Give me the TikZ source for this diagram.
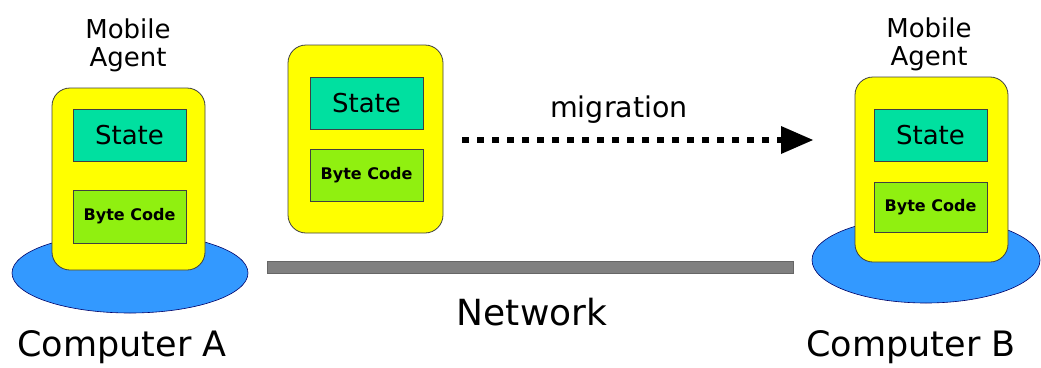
\documentclass[tikz,border=0pt]{standalone}
\usepackage{fontspec}
\setmainfont{DejaVu Sans}
\usetikzlibrary{arrows.meta}
\definecolor{agentyellow}{RGB}{255,255,0}
\definecolor{stategreen}{RGB}{0,224,160}
\definecolor{codegreen}{RGB}{144,240,16}
\definecolor{hostblue}{RGB}{51,153,255}
\definecolor{bargray}{RGB}{128,128,128}
\begin{document}
\begin{tikzpicture}[x=1pt,y=-1pt,
  agentbox/.style={draw=black!75,line width=0.8pt,fill=agentyellow,rounded corners=18pt,inner sep=0pt},
  statebox/.style={draw=black!75,line width=0.8pt,fill=stategreen,inner sep=0pt,minimum width=113pt,minimum height=52pt,font=\fontsize{26}{28}\selectfont},
  codebox/.style={draw=black!75,line width=0.8pt,fill=codegreen,inner sep=0pt,minimum width=113pt,font=\bfseries\fontsize{16}{18}\selectfont},
  agentlabel/.style={align=center,inner sep=0pt,anchor=north,font=\fontsize{26}{28}\selectfont},
  hostlabel/.style={inner sep=0pt,anchor=base,font=\fontsize{35}{40}\selectfont}]
\useasboundingbox (0,0) rectangle (1041,367);
% left computer
\fill[hostblue,draw=black!60!blue,line width=0.6pt] (130,273) ellipse [x radius=118,y radius=40];
\node[agentbox,minimum width=153pt,minimum height=182pt] (ya) at (128.5,179) {};
\node[statebox] (sa) at (129.5,135) {State};
\node[codebox,minimum height=53pt] (ca) at (129.5,216.5) {Byte Code};
\node[agentlabel] (la) at (128,19) {Mobile\\Agent};
\node[hostlabel] (ha) at (122,356) {Computer A};
% middle agent
\node[agentbox,minimum width=155pt,minimum height=188pt] (ym) at (365.5,139) {};
\node[statebox] (sm) at (366.5,103) {State};
\node[codebox,minimum height=52pt] (cm) at (366.5,175) {Byte Code};
% right computer
\fill[hostblue,draw=black!60!blue,line width=0.6pt] (926,260) ellipse [x radius=114,y radius=43];
\node[agentbox,minimum width=153pt,minimum height=185pt] (yb) at (931.5,169.5) {};
\node[statebox] (sb) at (930.5,135) {State};
\node[codebox,minimum height=50pt] (cb) at (930.5,207) {Byte Code};
\node[agentlabel] (lb) at (929,18) {Mobile\\Agent};
\node[hostlabel] (hb) at (911,356) {Computer B};
% network
\node[draw=black!60,line width=0.8pt,fill=bargray,minimum width=526pt,minimum height=12pt,inner sep=0pt] (net) at (530,267) {};
\node[hostlabel,font=\fontsize{36}{40}\selectfont] (nl) at (532,325) {Network};
% migration arrow
\coordinate (mstart) at (462,140);
\coordinate (mend) at (781,140);
\coordinate (mtip) at (813,140);
\draw[line width=6.5pt,dash pattern=on 6.5pt off 8.5pt] (mstart) -- (mend);
\fill[black] (mend) ++(0,-14) -- (mtip) -- ++(-32,14) -- cycle;
\node[anchor=base,inner sep=0pt,font=\fontsize{28.5}{30}\selectfont] (mig) at (619,117) {migration};
\end{tikzpicture}
\end{document}
